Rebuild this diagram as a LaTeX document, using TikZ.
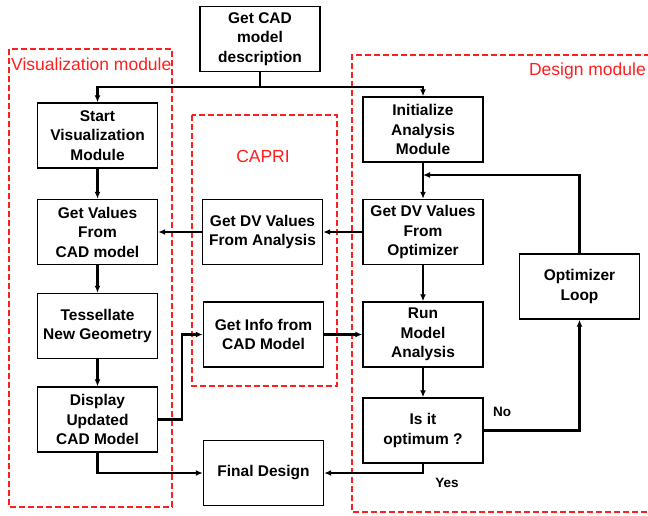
\documentclass[tikz,border=0pt]{standalone}
\usepackage{fontspec}
\setmainfont{Liberation Sans}
\usetikzlibrary{arrows.meta}
\definecolor{modred}{RGB}{255,30,30}
\tikzset{
  box/.style={draw,line width=1.4pt,minimum width=120pt,minimum height=65pt,inner sep=0pt,
    align=center,font=\fontsize{15.5}{19.5}\selectfont\bfseries},
  arr/.style={line width=2.2pt,-{Latex[length=7pt,width=6pt]}},
  link/.style={line width=2.2pt},
  module/.style={draw=modred,line width=2pt,dash pattern=on 6pt off 3pt},
  modlabel/.style={text=modred,font=\fontsize{17.5}{21}\selectfont,inner sep=0pt},
  answer/.style={font=\fontsize{13.5}{16}\selectfont\bfseries,inner sep=0pt}
}
\begin{document}
\begin{tikzpicture}[x=1pt,y=-1pt]
\useasboundingbox (0,0) rectangle (648,515);

% module frames
\draw[module] (9,49) rectangle (172,507);
\draw[module] (192,115) rectangle (337,386);
\draw[module] (650,55) -| (352,512) -- (650,512);
\node[modlabel,anchor=west] (vislabel) at (11,64) {Visualization module};
\node[modlabel] (caprilabel) at (263,156) {CAPRI};
\node[modlabel,anchor=east] (deslabel) at (646,71) {Design module};

% boxes
\node[box] (getcad) at (260,39) {Get CAD\\model\\description};
\node[box] (startvis) at (97.5,135.5) {Start\\Visualization\\Module};
\node[box] (getvalues) at (97.5,232) {Get Values\\From\\CAD model};
\node[box] (tess) at (97.5,326) {Tessellate\\New Geometry};
\node[box] (display) at (97.5,419.5) {Display\\Updated\\CAD Model};
\node[box] (dvanalysis) at (262.5,232) {Get DV Values\\From Analysis};
\node[box] (getinfo) at (263.5,334.5) {Get Info from\\CAD Model};
\node[box] (final) at (263.5,473) {Final Design};
\node[box] (initana) at (423,129.5) {Initialize\\Analysis\\Module};
\node[box] (dvopt) at (423,232) {Get DV Values\\From\\Optimizer};
\node[box] (runmodel) at (423,334.5) {Run\\Model\\Analysis};
\node[box] (isopt) at (423,430.5) {Is it\\optimum ?};
\node[box] (optloop) at (579.5,286.5) {Optimizer\\Loop};

% connectors
\coordinate (split) at (260,87);
\coordinate (loopin) at (423,175);
\draw[link] (getcad) -- (split);
\draw[arr] (split) -| (startvis);
\draw[arr] (split) -| (initana);
\draw[arr] (startvis) -- (getvalues);
\draw[arr] (getvalues) -- (tess);
\draw[arr] (tess) -- (display);
\draw[arr] (dvanalysis) -- (getvalues);
\draw[arr] (dvopt) -- (dvanalysis);
\draw[arr] (display.east) -- ++(24,0) |- (getinfo.west);
\draw[arr] (getinfo) -- (runmodel);
\draw[arr] (initana) -- (dvopt);
\draw[arr] (dvopt) -- (runmodel);
\draw[arr] (runmodel) -- (isopt);
\draw[arr] (isopt.east) -| (optloop.south);
\draw[arr] (optloop.north) |- (loopin);
\draw[arr] (isopt.south) |- (final.east);
\draw[arr] (display.south) |- (final.west);
\node[answer] (no) at (502,412) {No};
\node[answer] (yes) at (447,483) {Yes};
\end{tikzpicture}
\end{document}
